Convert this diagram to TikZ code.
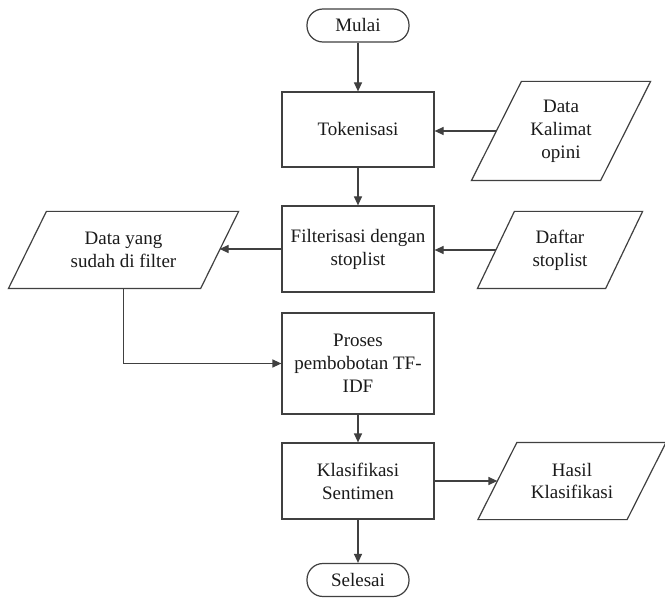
\documentclass[tikz,border=0pt]{standalone}
\usepackage{fontspec}
\setmainfont{Liberation Serif}
\usetikzlibrary{arrows.meta}
\definecolor{ln}{HTML}{404040}
\definecolor{tx}{HTML}{1A1A1A}
\tikzset{
  base/.style={draw=ln, line width=1.2pt, text=tx, font=\fontsize{19}{23}\selectfont, align=center, inner sep=0pt},
  term/.style={base, rounded corners=16pt, minimum width=102pt, minimum height=33pt},
  proc/.style={base, minimum width=152pt},
  io/.style={base, draw=none},
  arr/.style={draw=ln, line width=1.2pt, -{Triangle[length=9pt,width=8pt]}},
  iooutline/.style={draw=ln, line width=1.2pt, line join=miter}
}
\newcommand\ioframe[2]{\draw[iooutline] ([xshift=#2]#1.north west) -- ([xshift=#2]#1.north east) -- ([xshift=-#2]#1.south east) -- ([xshift=-#2]#1.south west) -- cycle;}
\begin{document}
\begin{tikzpicture}[x=1pt,y=-1pt]
\fill[white] (0,0) rectangle (665,599);
\useasboundingbox (0,0) rectangle (665,599);

\node[term] (mulai) at (358,25.5) {Mulai};
\node[proc, minimum height=75pt] (tok) at (358,129.5) {Tokenisasi};
\node[proc, minimum height=86pt] (fil) at (358,249) {Filterisasi dengan\\stoplist};
\node[proc, minimum height=101pt] (pro) at (358,363.5) {Proses\\pembobotan TF-\\IDF};
\node[proc, minimum height=76pt] (kla) at (358,481) {Klasifikasi\\Sentimen};
\node[term] (sel) at (358,580) {Selesai};

\node[io, minimum width=128pt, minimum height=98pt] (dk) at (561,131) {Data\\Kalimat\\opini};
\ioframe{dk}{25pt}
\node[io, minimum width=127pt, minimum height=76pt] (ds) at (560,250) {Daftar\\stoplist};
\ioframe{ds}{18.5pt}
\node[io, minimum width=191pt, minimum height=76pt] (dy) at (123.5,250) {Data yang\\sudah di filter};
\ioframe{dy}{19pt}
\node[io, minimum width=148pt, minimum height=76pt] (hk) at (572,481) {Hasil\\Klasifikasi};
\ioframe{hk}{19.5pt}

\draw[arr] (mulai) -- (tok);
\draw[arr] (tok) -- (fil);
\draw[arr] (dk.west) -- (tok.east |- dk.west);
\draw[arr] (ds.west) -- (fil.east |- ds.west);
\draw[arr] (fil.west) -- (dy.east |- fil.west);
\draw[arr] (dy.south) |- (pro.west);
\draw[arr] (pro) -- (kla);
\draw[arr] (kla.east) -- (hk.west |- kla.east);
\draw[arr] (kla) -- (sel);
\end{tikzpicture}
\end{document}
